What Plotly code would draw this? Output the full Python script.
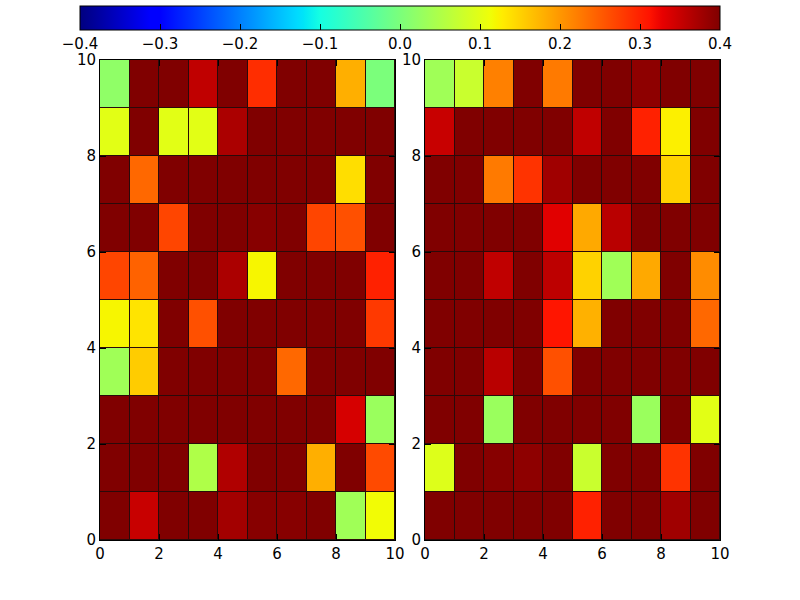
import numpy as np
import plotly.graph_objects as go

# ---- data (row index 0 = bottom row, y in [0,1]) ----
M = 0.4  # saturated (dark red) cells
left_values = [
    [M,    0.35, M,    M,    0.375, 0.395, 0.395, M,    0.035, 0.115],  # y 0-1
    [M,    M,    M,    0.05, 0.366, M,     M,     0.18, M,     0.265],  # y 1-2
    [M,    M,    M,    M,    M,     M,     M,     M,    0.34,  0.03],   # y 2-3
    [0.035, 0.155, M,  M,    M,     M,     0.24,  M,    M,     M],      # y 3-4
    [0.12, 0.135, M,   0.26, M,     M,     M,     M,    M,     0.28],   # y 4-5
    [0.27, 0.245, M,   M,    0.37,  0.12,  M,     M,    M,     0.30],   # y 5-6
    [M,    M,    0.27, M,    M,     0.395, M,     0.27, 0.26,  M],      # y 6-7
    [M,    0.24, M,    M,    M,     M,     M,     M,    0.14,  M],      # y 7-8
    [0.10, M,    0.10, 0.10, 0.37,  M,     M,     M,    M,     M],      # y 8-9
    [0.02, M,    M,    0.355, M,    0.29,  M,     M,    0.18,  0.0],    # y 9-10
]
right_values = [
    [M,    M,    M,     M,    M,     0.30,  M,    M,    0.377, M],      # y 0-1
    [0.095, M,   0.395, 0.39, M,     0.075, M,    M,    0.285, M],      # y 1-2
    [M,    M,    0.03,  M,    M,     M,     M,    0.03, M,     0.10],   # y 2-3
    [M,    M,    0.36,  M,    0.26,  M,     M,    M,    M,     M],      # y 3-4
    [M,    M,    M,     M,    0.31,  0.178, M,    M,    M,     0.24],   # y 4-5
    [M,    M,    0.355, M,    0.357, 0.15,  0.035, 0.185, M,   0.21],   # y 5-6
    [M,    M,    M,     M,    0.333, 0.185, 0.36, M,    M,     M],      # y 6-7
    [M,    M,    0.225, 0.285, 0.377, M,    M,    M,    0.15,  M],      # y 7-8
    [0.35, M,    M,     M,    M,     0.355, M,    0.30, 0.125, M],      # y 8-9
    [0.035, 0.075, 0.22, M,   0.225, M,     M,    0.39, M,     M],      # y 9-10
]
cell_centers = [i + 0.5 for i in range(10)]
axis_ticks = [0, 2, 4, 6, 8, 10]
cbar_ticks = [-0.4, -0.3, -0.2, -0.1, 0.0, 0.1, 0.2, 0.3, 0.4]
zmin, zmax = -0.4, 0.4

# ---- matplotlib "jet" colormap as a plotly colorscale ----
red = [(0, 0), (0.35, 0), (0.66, 1), (0.89, 1), (1, 0.5)]
green = [(0, 0), (0.125, 0), (0.375, 1), (0.64, 1), (0.91, 0), (1, 0)]
blue = [(0, 0.5), (0.11, 1), (0.34, 1), (0.65, 0), (1, 0)]
pts = sorted(set([p for p, _ in red + green + blue] + list(np.linspace(0, 1, 41))))
def ch(seg, t):
    return np.interp(t, [p for p, _ in seg], [v for _, v in seg])
jet = [[float(t), "rgb(%d,%d,%d)" % (round(255 * ch(red, t)), round(255 * ch(green, t)), round(255 * ch(blue, t)))] for t in pts]

FONT = dict(family="DejaVu Sans", size=15, color="black")

fig = go.Figure()
fig.add_trace(go.Heatmap(z=left_values, x=cell_centers, y=cell_centers, coloraxis="coloraxis",
                         xgap=1, ygap=1, xaxis="x", yaxis="y", hoverinfo="skip"))
fig.add_trace(go.Heatmap(z=right_values, x=cell_centers, y=cell_centers, coloraxis="coloraxis",
                         xgap=1, ygap=1, xaxis="x2", yaxis="y2", hoverinfo="skip"))

axis_style = dict(range=[0, 10], tickvals=axis_ticks, ticks="inside", ticklen=6, tickcolor="black",
                  showgrid=False, zeroline=False, showline=True, linecolor="black", linewidth=1,
                  mirror="ticks", automargin=False, tickfont=FONT)

fig.update_layout(
    width=800, height=600,
    margin=dict(l=0, r=0, t=0, b=0, autoexpand=False),
    paper_bgcolor="white", plot_bgcolor="#2a0a0a",
    xaxis=dict(domain=[0.125, 0.49375], anchor="y", **axis_style),
    yaxis=dict(domain=[0.1, 0.9], anchor="x", **axis_style),
    xaxis2=dict(domain=[0.53125, 0.9], anchor="y2", **axis_style),
    yaxis2=dict(domain=[0.1, 0.9], anchor="x2", **axis_style),
    coloraxis=dict(
        cmin=zmin, cmax=zmax, colorscale=jet,
        colorbar=dict(orientation="h", x=0.5, xanchor="center", len=0.8, lenmode="fraction",
                      y=1 - 6 / 600, yanchor="top", thickness=24, xpad=0, ypad=0,
                      outlinewidth=1, outlinecolor="black",
                      tickvals=cbar_ticks, tickformat=".1f", ticks="inside", ticklen=6,
                      tickcolor="black", tickfont=FONT),
    ),
    font=FONT,
)

fig.write_html("out.html")
